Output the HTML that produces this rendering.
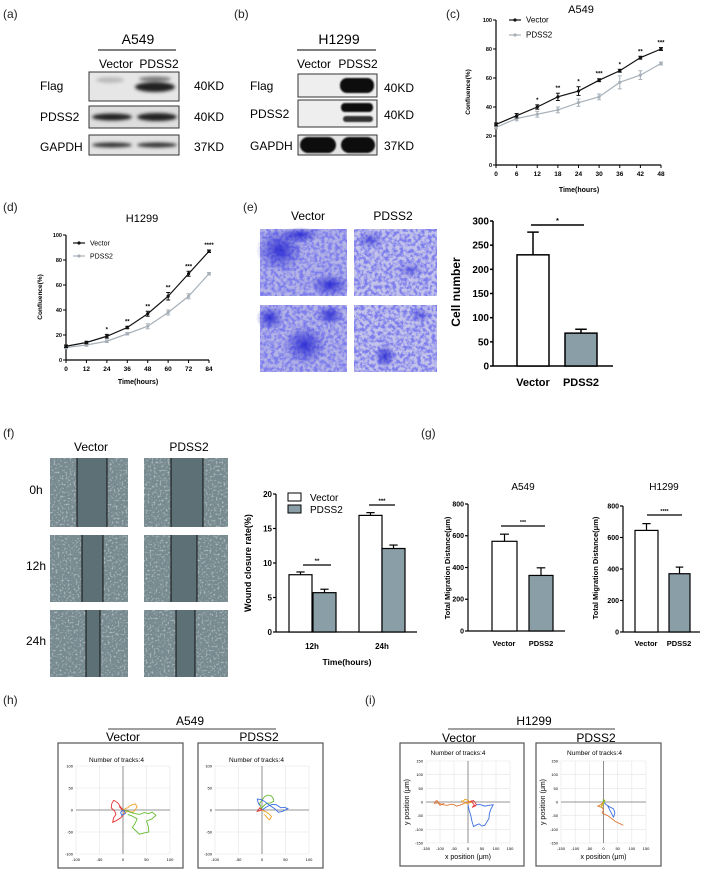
<!DOCTYPE html>
<html><head><meta charset="utf-8"><style>
html,body{margin:0;padding:0;background:#fff;}
svg{display:block;font-family:"Liberation Sans",Arial,sans-serif;}
</style></head><body>
<svg id="fig" width="703" height="878" viewBox="0 0 703 878" xmlns="http://www.w3.org/2000/svg">
<defs>
<filter id="blur1"><feGaussianBlur stdDeviation="1.6"/></filter>
<filter id="blur2"><feGaussianBlur stdDeviation="0.8"/></filter>
<filter id="twell" x="0" y="0" width="1" height="1">
<feTurbulence type="fractalNoise" baseFrequency="0.28" numOctaves="3" seed="3"/>
<feColorMatrix type="matrix" values="0 0 0 0 0.2  0 0 0 0 0.2  0 0 0 0 0.85  0 0 0 -3.2 2.0"/>
</filter>
<filter id="wnoise" x="0" y="0" width="1" height="1">
<feTurbulence type="fractalNoise" baseFrequency="0.5" numOctaves="2" seed="7"/>
<feColorMatrix type="matrix" values="0 0 0 0 0.92  0 0 0 0 0.95  0 0 0 0 0.95  0 0 0 -4 1.9"/>
</filter>
<radialGradient id="blob"><stop offset="0" stop-color="#2020d0" stop-opacity="0.85"/><stop offset="1" stop-color="#2020d0" stop-opacity="0"/></radialGradient>
</defs>

<g font-size="12" fill="#222">
<text x="3" y="18">(a)</text><text x="234" y="18">(b)</text><text x="446" y="18">(c)</text>
<text x="3" y="211">(d)</text><text x="243" y="211">(e)</text>
<text x="3" y="437">(f)</text><text x="421" y="437">(g)</text>
<text x="3" y="704">(h)</text><text x="365" y="704">(i)</text>
</g>

<g>
<text x="138" y="44" font-size="14" text-anchor="middle">A549</text>
<line x1="98" y1="50" x2="176" y2="50" stroke="#000" stroke-width="1"/>
<text x="116" y="68" font-size="12" text-anchor="middle">Vector</text>
<text x="159" y="68" font-size="12" text-anchor="middle">PDSS2</text>
<g font-size="12"><text x="40" y="90">Flag</text><text x="40" y="121">PDSS2</text><text x="40" y="151">GAPDH</text>
<text x="194" y="90">40KD</text><text x="194" y="121">40KD</text><text x="194" y="151">37KD</text></g>
<rect x="89" y="72" width="90" height="29" fill="#e6e6e6" stroke="#333"/>
<rect x="89" y="106" width="90" height="22" fill="#ddd" stroke="#333"/>
<rect x="89" y="135" width="90" height="20" fill="#e2e2e2" stroke="#333"/>
<g filter="url(#blur1)">
<ellipse cx="110" cy="80" rx="14" ry="3" fill="#bbb"/>
<ellipse cx="155" cy="87" rx="20" ry="5" fill="#222"/>
<ellipse cx="155" cy="79" rx="16" ry="2.5" fill="#777"/>
<ellipse cx="112" cy="117" rx="20" ry="3.5" fill="#222"/>
<ellipse cx="157" cy="117" rx="20" ry="4" fill="#222"/>
<ellipse cx="112" cy="145" rx="20" ry="2.5" fill="#333"/>
<ellipse cx="157" cy="145" rx="20" ry="2.5" fill="#333"/>
</g>
</g>

<g>
<text x="339" y="44" font-size="14" text-anchor="middle">H1299</text>
<line x1="297" y1="50" x2="376" y2="50" stroke="#000"/>
<text x="314" y="68" font-size="12" text-anchor="middle">Vector</text>
<text x="358" y="68" font-size="12" text-anchor="middle">PDSS2</text>
<g font-size="12"><text x="250" y="90">Flag</text><text x="250" y="118">PDSS2</text><text x="250" y="150">GAPDH</text>
<text x="384" y="92">40KD</text><text x="384" y="119">40KD</text><text x="384" y="150">37KD</text></g>
<rect x="298" y="74" width="79" height="23" fill="#eee" stroke="#333"/>
<rect x="298" y="100" width="79" height="27" fill="#eee" stroke="#333"/>
<rect x="298" y="135" width="79" height="20" fill="#e4e4e4" stroke="#333"/>
<g filter="url(#blur2)">
<rect x="340" y="78" width="34" height="15" rx="7" fill="#111"/>
<rect x="341" y="103" width="32" height="9" rx="4" fill="#111"/>
<rect x="343" y="116" width="30" height="6" rx="3" fill="#333"/>
<rect x="300" y="137" width="36" height="16" rx="8" fill="#111"/>
<rect x="341" y="137" width="34" height="16" rx="8" fill="#111"/>
</g>
</g>

<g>
<text x="308" y="220" font-size="12" text-anchor="middle">Vector</text>
<text x="393" y="220" font-size="12" text-anchor="middle">PDSS2</text>
<g><rect x="260" y="229" width="87" height="67" fill="#b4b4e6"/><rect x="260" y="229" width="87" height="67" filter="url(#twell)"/>
<ellipse cx="280" cy="250" rx="24" ry="22" fill="url(#blob)"/><ellipse cx="330" cy="285" rx="20" ry="12" fill="url(#blob)"/><ellipse cx="300" cy="235" rx="20" ry="8" fill="url(#blob)"/></g>
<g><rect x="354" y="229" width="83" height="67" fill="#c4c4ea"/><rect x="354" y="229" width="83" height="67" filter="url(#twell)"/>
<ellipse cx="370" cy="240" rx="14" ry="9" fill="url(#blob)" opacity="0.7"/><ellipse cx="410" cy="270" rx="14" ry="9" fill="url(#blob)" opacity="0.5"/></g>
<g><rect x="260" y="305" width="87" height="67" fill="#b4b4e6"/><rect x="260" y="305" width="87" height="67" filter="url(#twell)"/>
<ellipse cx="305" cy="345" rx="22" ry="20" fill="url(#blob)"/><ellipse cx="270" cy="318" rx="14" ry="12" fill="url(#blob)"/><ellipse cx="330" cy="315" rx="14" ry="10" fill="url(#blob)"/></g>
<g><rect x="354" y="305" width="83" height="67" fill="#c4c4ea"/><rect x="354" y="305" width="83" height="67" filter="url(#twell)"/>
<ellipse cx="385" cy="356" rx="11" ry="12" fill="url(#blob)"/><ellipse cx="420" cy="315" rx="12" ry="8" fill="url(#blob)" opacity="0.6"/></g>
</g>

<g>
<text x="91" y="451" font-size="12" text-anchor="middle">Vector</text>
<text x="189" y="451" font-size="12" text-anchor="middle">PDSS2</text>
<text x="36" y="494" font-size="12" text-anchor="middle">0h</text>
<text x="36" y="570" font-size="12" text-anchor="middle">12h</text>
<text x="36" y="645" font-size="12" text-anchor="middle">24h</text>
<g id="wounds"></g>
</g>

<g font-size="12">
<text x="190" y="725" text-anchor="middle">A549</text><line x1="108" y1="729" x2="276" y2="729" stroke="#000" stroke-width="0.8"/>
<text x="123" y="741" text-anchor="middle">Vector</text><text x="259" y="741" text-anchor="middle">PDSS2</text>
<text x="534" y="725" text-anchor="middle">H1299</text><line x1="448" y1="729" x2="615" y2="729" stroke="#000" stroke-width="0.8"/>
<text x="459" y="742" text-anchor="middle">Vector</text><text x="596" y="742" text-anchor="middle">PDSS2</text>
</g>
<g id="charts"></g>
</svg>
<script>
const cHours=[0,6,12,18,24,30,36,42,48];
const cVector=[28,34,40,47,51,58.5,65,74,80];
const cVectorErr=[1,1.5,1.5,2.5,3,1,1,1,1];
const cPdss2=[26,32,35,38,43,47,57,62,70];
const cPdss2Err=[1,1.5,2,2,2.5,2,4.5,3,1];
const cStars=['','','*','**','*','***','*','**','***'];
const dHours=[0,12,24,36,48,60,72,84];
const dVector=[11,14,19,26,37,51,69,87];
const dVectorErr=[1,1,1.5,1,2,3,2,1];
const dPdss2=[10,12,15,21,27,38,51,69];
const dPdss2Err=[1,1,1,1,2,2,2,1];
const dStars=['','','*','**','**','**','***','****'];
const eGroups=['Vector','PDSS2'];
const eValues=[230,68];
const eErr=[47,8];
const wGroups=['12h','24h'];
const wVector=[8.3,16.9];
const wVectorErr=[0.4,0.4];
const wPdss2=[5.7,12.1];
const wPdss2Err=[0.5,0.5];
const wStars=['**','***'];
const gA549=[565,350];
const gA549Err=[45,48];
const gH1299=[645,370];
const gH1299Err=[43,42];
const hVecTracks=[
 [[0,0],[-6,8],[-10,15],[-16,20],[-20,22],[-24,14],[-25,5],[-18,-2],[-15,-10],[-20,-18],[-22,-28],[-14,-24],[-5,-18],[0,-12],[5,-5],[-3,2],[-8,8],[-4,4],[0,0]],
 [[0,0],[6,4],[10,5],[15,10],[20,12],[26,14],[30,8],[27,2],[22,-5],[16,-4],[10,-2],[5,-6],[0,-8]],
 [[0,0],[8,-2],[15,-5],[25,-8],[35,-10],[45,-6],[55,-8],[62,-5],[70,-12],[62,-20],[50,-25],[54,-38],[55,-50],[45,-52],[35,-55],[28,-48],[20,-40],[26,-30],[30,-20],[20,-14],[10,-10]],
 [[0,0],[-5,-5],[-3,-12],[5,-8],[2,0]]];
const hPdssTracks=[
 [[0,0],[-3,8],[-5,15],[0,22],[5,30],[12,34],[20,32],[24,26],[25,20],[18,16],[10,15],[4,10],[0,5]],
 [[0,0],[8,6],[15,10],[22,13],[30,12],[36,8],[40,5],[48,6],[55,3],[44,-3],[35,-5],[28,2],[20,8],[12,14],[5,20],[-3,24],[-10,25],[-8,16],[-5,10]],
 [[0,0],[5,-3],[10,-5],[16,-10],[20,-15],[18,-20],[15,-22],[10,-16],[5,-10]],
 [[0,0],[-10,-3],[-5,5],[0,0]]];
const iVecTracks=[
 [[0,0],[-10,-3],[-20,-8],[-30,-12],[-40,-15],[-50,-10],[-60,-8],[-75,-12],[-90,-10],[-105,-3],[-120,-5],[-115,4],[-110,5],[-105,-6],[-100,-12],[-92,-8],[-85,-5]],
 [[0,0],[10,3],[20,5],[26,-3],[30,-10],[22,-16],[15,-20],[20,-14],[25,-15],[18,-5],[10,5]],
 [[-20,0],[-15,6],[-10,10],[-5,8],[0,5],[6,2],[10,-2],[2,-4],[-5,-5],[-15,0],[-25,5]],
 [[0,-10],[4,-30],[10,-50],[14,-70],[20,-90],[30,-84],[40,-80],[50,-88],[60,-85],[68,-72],[75,-60],[76,-45],[80,-30],[85,-20],[90,-10],[75,-12],[60,-15],[45,-10],[30,-10]]];
const iPdssTracks=[
 [[0,0],[-5,-5],[-10,-10],[-15,-12],[-20,-15],[-12,-18],[-5,-20],[-2,-25],[0,-30],[-3,-35],[-5,-40],[5,-45],[15,-50],[28,-60],[40,-70],[55,-78],[70,-85]],
 [[0,0],[5,-5],[10,-10],[18,-15],[25,-20],[30,-22],[35,-25],[38,-32],[40,-40],[38,-48],[35,-55],[30,-45],[25,-35],[20,-25],[15,-15]],
 [[0,0],[-5,-10],[-10,-20],[-5,-15],[5,5],[0,10]],
 [[0,0],[3,5],[-2,8],[2,2]]];
const hVecColors=['#e53030','#f0a020','#66bb33','#3a6ee0'];
const hPdssColors=['#66bb33','#3a6ee0','#f0a020','#e53030'];
const iVecColors=['#e0783a','#e53030','#f0a020','#3a6ee0'];
const iPdssColors=['#e0783a','#3a6ee0','#c8b820','#66bb33'];

const NS='http://www.w3.org/2000/svg';
const root=document.getElementById('charts');
function el(tag,attrs,parent){const e=document.createElementNS(NS,tag);for(const k in attrs)e.setAttribute(k,attrs[k]);(parent||root).appendChild(e);return e;}
function txt(x,y,s,size,parent,anchor,weight,rot){const t=el('text',{x:x,y:y,'font-size':size,'text-anchor':anchor||'middle','font-weight':weight||'normal'},parent);if(rot)t.setAttribute('transform','rotate(-90 '+x+' '+y+')');t.textContent=s;return t;}

(function(){
 const wg=document.getElementById('wounds');
 const cols=[[50,78],[144,84]];
 const rows=[[458,69],[535,67],[610,67]];
 const gaps=[[[77,107],[171,203]],[[82,103],[171,197]],[[86,100],[176,195]]];
 for(let r=0;r<3;r++)for(let c=0;c<2;c++){
  const g=el('g',{},wg);
  
  
  el('rect',{x:cols[c][0],y:rows[r][0],width:cols[c][1],height:rows[r][1],fill:'#778a8f'},g);
  el('rect',{x:cols[c][0],y:rows[r][0],width:cols[c][1],height:rows[r][1],filter:'url(#wnoise)',opacity:0.45},g);
  const gp=gaps[r][c];
  el('rect',{x:gp[0],y:rows[r][0],width:gp[1]-gp[0],height:rows[r][1],fill:'#5c7075'},g);
  el('line',{x1:gp[0],y1:rows[r][0],x2:gp[0],y2:rows[r][0]+rows[r][1],stroke:'#111','stroke-width':1},g);
  el('line',{x1:gp[1],y1:rows[r][0],x2:gp[1],y2:rows[r][0]+rows[r][1],stroke:'#111','stroke-width':1},g);
 }
})();

function lineChart(name,cfg){
 const g=el('g',{});
 
 
 const sx=v=>cfg.x0+(cfg.x1-cfg.x0)*v/cfg.xmax;
 const sy=v=>cfg.y0-(cfg.y0-cfg.y1)*v/100;
 el('line',{x1:cfg.x0,y1:cfg.y1,x2:cfg.x0,y2:cfg.y0,stroke:'#000','stroke-width':1.2},g);
 el('line',{x1:cfg.x0,y1:cfg.y0,x2:cfg.x1,y2:cfg.y0,stroke:'#000','stroke-width':1.2},g);
 for(let v=0;v<=100;v+=20){el('line',{x1:cfg.x0-3,y1:sy(v),x2:cfg.x0,y2:sy(v),stroke:'#000'},g);txt(cfg.x0-4,sy(v)+2,String(v),5.5,g,'end','bold');}
 cfg.xs.forEach(v=>{el('line',{x1:sx(v),y1:cfg.y0,x2:sx(v),y2:cfg.y0+3,stroke:'#000'},g);txt(sx(v),cfg.y0+11,String(v),6.5,g,'middle','bold');});
 txt(cfg.xlx,cfg.xly,'Time(hours)',7,g,'middle','bold');
 txt(cfg.ylx,cfg.yly,'Confluence(%)',6.5,g,'middle','bold',true);
 txt(cfg.tx,cfg.ty,cfg.title,11,g);
 [[cfg.p,cfg.pe,'#a7b0b8','pdss2'],[cfg.v,cfg.ve,'#111','vector']].forEach(s=>{
  const sg=el('g',{},g);
  
  
  el('polyline',{points:cfg.xs.map((x,i)=>sx(x)+','+sy(s[0][i])).join(' '),fill:'none',stroke:s[2],'stroke-width':1.2},sg);
  cfg.xs.forEach((x,i)=>{
   el('line',{x1:sx(x),y1:sy(s[0][i]-s[1][i]),x2:sx(x),y2:sy(s[0][i]+s[1][i]),stroke:s[2]},sg);
   el('line',{x1:sx(x)-2,y1:sy(s[0][i]+s[1][i]),x2:sx(x)+2,y2:sy(s[0][i]+s[1][i]),stroke:s[2]},sg);
   el('line',{x1:sx(x)-2,y1:sy(s[0][i]-s[1][i]),x2:sx(x)+2,y2:sy(s[0][i]-s[1][i]),stroke:s[2]},sg);
   el('circle',{cx:sx(x),cy:sy(s[0][i]),r:1.6,fill:s[2]},sg);
  });
 });
 cfg.xs.forEach((x,i)=>{if(cfg.stars[i])txt(sx(x),sy(cfg.v[i]+cfg.ve[i])-3,cfg.stars[i],6,g,'middle','bold');});
 const lg=el('g',{},g);
 
 
 el('line',{x1:cfg.lx,y1:cfg.ly,x2:cfg.lx+12,y2:cfg.ly,stroke:'#111','stroke-width':1.2},lg);
 el('circle',{cx:cfg.lx+6,cy:cfg.ly,r:1.6,fill:'#111'},lg);
 txt(cfg.lx+17,cfg.ly+2.5,'Vector',cfg.lf,lg,'start');
 el('line',{x1:cfg.lx,y1:cfg.ly+cfg.lg,x2:cfg.lx+12,y2:cfg.ly+cfg.lg,stroke:'#a7b0b8','stroke-width':1.2},lg);
 el('circle',{cx:cfg.lx+6,cy:cfg.ly+cfg.lg,r:1.6,fill:'#a7b0b8'},lg);
 txt(cfg.lx+17,cfg.ly+cfg.lg+2.5,'PDSS2',cfg.lf,lg,'start');
}
lineChart('chart-c-a549-confluence',{x0:496,x1:661,y0:165,y1:20,xmax:48,xs:cHours,v:cVector,ve:cVectorErr,p:cPdss2,pe:cPdss2Err,stars:cStars,xlx:579,xly:192,ylx:470,yly:92,title:'A549',tx:581,ty:13,lx:509,ly:20,lg:15,lf:8});
lineChart('chart-d-h1299-confluence',{x0:66,x1:209,y0:360,y1:235,xmax:84,xs:dHours,v:dVector,ve:dVectorErr,p:dPdss2,pe:dPdss2Err,stars:dStars,xlx:138,xly:384,ylx:42,yly:297,title:'H1299',tx:142,ty:222,lx:73,ly:243,lg:13,lf:7});

function barChart(name,cfg){
 const g=el('g',{});
 
 
 const sy=v=>cfg.y0-(cfg.y0-cfg.yt)*v/cfg.ymax;
 el('line',{x1:cfg.ax,y1:sy(cfg.ymax),x2:cfg.ax,y2:cfg.y0,stroke:'#000','stroke-width':cfg.lw},g);
 el('line',{x1:cfg.ax,y1:cfg.y0,x2:cfg.xe,y2:cfg.y0,stroke:'#000','stroke-width':cfg.lw},g);
 for(let v=0;v<=cfg.ymax;v+=cfg.step){el('line',{x1:cfg.ax-3,y1:sy(v),x2:cfg.ax,y2:sy(v),stroke:'#000','stroke-width':cfg.lw},g);txt(cfg.ax-4,sy(v)+cfg.tf*0.35,String(v),cfg.tf,g,'end','bold');}
 cfg.bars.forEach(b=>{
  const bg=el('g',{},g);
  
  
  el('line',{x1:(b.x0+b.x1)/2,y1:sy(b.val),x2:(b.x0+b.x1)/2,y2:sy(b.val+b.err),stroke:'#000','stroke-width':cfg.lw},bg);
  el('line',{x1:(b.x0+b.x1)/2-(b.x1-b.x0)*0.18,y1:sy(b.val+b.err),x2:(b.x0+b.x1)/2+(b.x1-b.x0)*0.18,y2:sy(b.val+b.err),stroke:'#000','stroke-width':cfg.lw},bg);
  el('rect',{x:b.x0,y:sy(b.val),width:b.x1-b.x0,height:cfg.y0-sy(b.val),fill:b.fill,stroke:'#000','stroke-width':cfg.lw},bg);
 });
 (cfg.sig||[]).forEach(s=>{el('line',{x1:s.x0,y1:s.y,x2:s.x1,y2:s.y,stroke:'#000','stroke-width':cfg.lw},g);txt((s.x0+s.x1)/2,s.y-2,s.t,cfg.tf*0.75,g,'middle','bold');});
 (cfg.labels||[]).forEach(l=>txt(l.x,l.y,l.t,cfg.lf,g,'middle','bold'));
 txt(cfg.ylx,cfg.yly,cfg.ylabel,cfg.ylf,g,'middle','bold',true);
 return g;
}
const E={x0:[517,565],x1:[549,597]};
barChart('chart-e-cell-number',{ax:493,y0:366,yt:221,ymax:300,step:50,xe:613,lw:1.5,tf:10,lf:11,ylf:12,ylx:460,yly:292,ylabel:'Cell number',
 bars:eValues.map((v,i)=>({name:eGroups[i],x0:E.x0[i],x1:E.x1[i],val:v,err:eErr[i],fill:i?'#8a9ea8':'#fff'})),
 sig:[{x0:531,x1:584,y:225,t:'*'}],labels:eGroups.map((t,i)=>({t:t,x:(E.x0[i]+E.x1[i])/2,y:386}))});
const W={vx:[289,359],px:[313,382],w:23};
const wg=barChart('chart-f-wound-closure',{ax:276,y0:632,yt:494,ymax:20,step:5,xe:417,lw:1.2,tf:8,lf:8,ylf:9,ylx:251,yly:563,ylabel:'Wound closure rate(%)',
 bars:wVector.map((v,i)=>({name:'vector-'+wGroups[i],x0:W.vx[i],x1:W.vx[i]+W.w,val:v,err:wVectorErr[i],fill:'#fff'})).concat(wPdss2.map((v,i)=>({name:'pdss2-'+wGroups[i],x0:W.px[i],x1:W.px[i]+W.w,val:v,err:wPdss2Err[i],fill:'#8a9ea8'}))),
 sig:[{x0:303,x1:331,y:565,t:wStars[0]},{x0:369,x1:395,y:505,t:wStars[1]}],
 labels:wGroups.map((t,i)=>({t:t,x:W.vx[i]+W.w,y:649}))});
txt(347,665,'Time(hours)',8.5,wg,'middle','bold');
const wl=el('g',{},wg);


el('rect',{x:288,y:493,width:13,height:8,fill:'#fff',stroke:'#000'},wl);
el('rect',{x:288,y:505,width:13,height:8,fill:'#8a9ea8',stroke:'#000'},wl);
txt(310,501,'Vector',10,wl,'start');txt(310,513,'PDSS2',10,wl,'start');
const g1=barChart('chart-g-a549-migration',{ax:468,y0:631,yt:504,ymax:800,step:200,xe:565,lw:1.2,tf:7,lf:7.5,ylf:7.5,ylx:450,yly:568,ylabel:'Total Migration Distance(μm)',
 bars:gA549.map((v,i)=>({name:eGroups[i],x0:[492,529][i],x1:[517,553][i],val:v,err:gA549Err[i],fill:i?'#8a9ea8':'#fff'})),
 sig:[{x0:501,x1:545,y:526,t:'***'}],labels:[{t:'Vector',x:504,y:646},{t:'PDSS2',x:541,y:646}]});
txt(523,490,'A549',10,g1);
const g2=barChart('chart-g-h1299-migration',{ax:623,y0:632,yt:506,ymax:800,step:200,xe:700,lw:1.2,tf:7,lf:7.5,ylf:7.5,ylx:598,yly:568,ylabel:'Total Migration Distance(μm)',
 bars:gH1299.map((v,i)=>({name:eGroups[i],x0:[635,669][i],x1:[658,690][i],val:v,err:gH1299Err[i],fill:i?'#8a9ea8':'#fff'})),
 sig:[{x0:647,x1:682,y:515,t:'****'}],labels:[{t:'Vector',x:646,y:646},{t:'PDSS2',x:679,y:646}]});
txt(664,490,'H1299',10,g2);

function trackPlot(name,cfg,tracks,colors){
 const g=el('g',{});
 
 
 el('rect',{x:cfg.bx,y:cfg.by,width:cfg.bw,height:cfg.bh,fill:'#fff',stroke:'#555','stroke-width':1.2},g);
 txt(cfg.bx+cfg.bw/2-4,cfg.ty,'Number of tracks:4',6.5,g);
 const sx=v=>cfg.px0+(cfg.px1-cfg.px0)*(v+cfg.r)/(2*cfg.r);
 const sy=v=>cfg.py1-(cfg.py1-cfg.py0)*(v+cfg.r)/(2*cfg.r);
 for(let v=-cfg.r;v<=cfg.r;v+=cfg.st){
  el('line',{x1:sx(v),y1:cfg.py0,x2:sx(v),y2:cfg.py1,stroke:'#e4e4e4','stroke-width':0.6},g);
  el('line',{x1:cfg.px0,y1:sy(v),x2:cfg.px1,y2:sy(v),stroke:'#e4e4e4','stroke-width':0.6},g);
  txt(sx(v),cfg.py1+7,String(v),4,g);
  txt(cfg.px0-3,sy(v)+1.5,String(v),4,g,'end');
 }
 el('line',{x1:sx(0),y1:cfg.py0,x2:sx(0),y2:cfg.py1,stroke:'#777','stroke-width':0.8},g);
 el('line',{x1:cfg.px0,y1:sy(0),x2:cfg.px1,y2:sy(0),stroke:'#777','stroke-width':0.8},g);
 tracks.forEach((t,i)=>{
  const p=el('polyline',{points:t.map(q=>sx(q[0])+','+sy(q[1])).join(' '),fill:'none',stroke:colors[i],'stroke-width':0.9},g);
  
  
 });
 if(cfg.axes){txt(sx(0),cfg.py1+16,'x position (μm)',7,g);txt(cfg.bx+9,(cfg.py0+cfg.py1)/2,'y position (μm)',7,g,'middle','normal',true);}
}
trackPlot('tracks-a549-vector',{bx:58,by:743,bw:125,bh:125,ty:762,px0:76,px1:170,py0:766,py1:854,r:100,st:50},hVecTracks,hVecColors);
trackPlot('tracks-a549-pdss2',{bx:198,by:743,bw:125,bh:125,ty:762,px0:215,px1:309,py0:766,py1:854,r:100,st:50},hPdssTracks,hPdssColors);
trackPlot('tracks-h1299-vector',{bx:400,by:743,bw:124,bh:123,ty:755,px0:426,px1:510,py0:761,py1:843,r:150,st:50,axes:true},iVecTracks,iVecColors);
trackPlot('tracks-h1299-pdss2',{bx:536,by:743,bw:125,bh:123,ty:755,px0:561,px1:646,py0:761,py1:843,r:150,st:50,axes:true},iPdssTracks,iPdssColors);
</script>
</body></html>
